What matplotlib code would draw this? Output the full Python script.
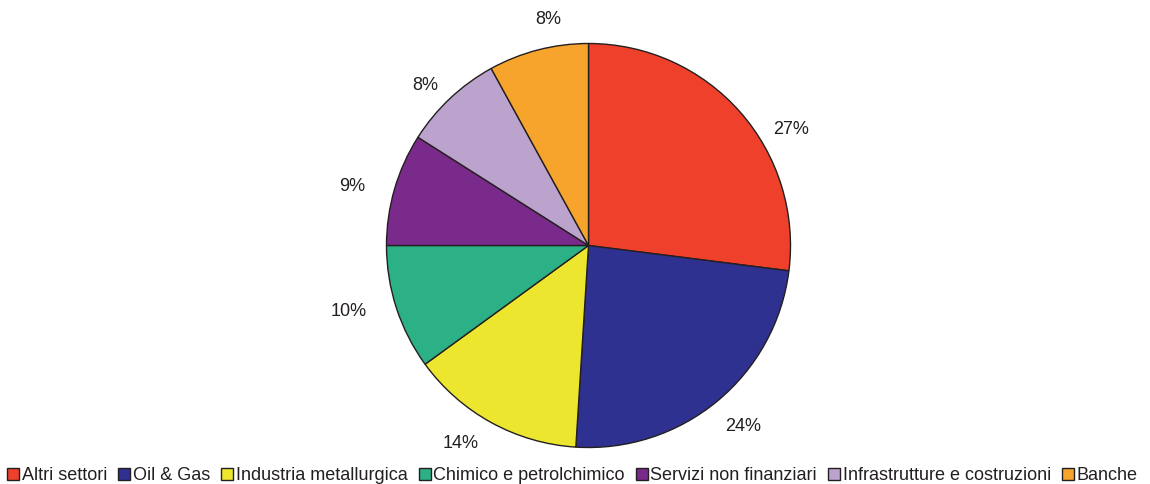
import numpy as np
import matplotlib
matplotlib.use("Agg")
import matplotlib.pyplot as plt
from matplotlib.patches import Patch

plt.rcParams['font.family'] = ['Liberation Sans', 'DejaVu Sans']

sectors = ["Altri settori", "Oil & Gas", "Industria metallurgica",
           "Chimico e petrolchimico", "Servizi non finanziari",
           "Infrastrutture e costruzioni", "Banche"]
shares = [27, 24, 14, 10, 9, 8, 8]
colors = ["#EE402A", "#2E3190", "#EDE62E", "#2CB085", "#7A2A8A", "#BBA3CE", "#F7A42C"]

# label placement around each wedge: angular nudge (deg) and radius factor
label_dtheta = [-11.5, 1.0, -4.0, -2.6, 2.2, 2.3, -4.4]
label_rfac = [1.155, 1.18, 1.165, 1.23, 1.205, 1.13, 1.135]

W, H = 1150, 484
fig = plt.figure(figsize=(W / 100, H / 100), dpi=100)
ax = fig.add_axes([0, 0, 1, 1])

cx, cy, r = 588.5, H - 245.5, 202
wedges, _ = ax.pie(shares, colors=colors, startangle=90, counterclock=False,
                   center=(cx, cy), radius=r, frame=True,
                   wedgeprops=dict(edgecolor="#231F20", linewidth=1.0))
ax.set_xlim(0, W)
ax.set_ylim(0, H)
ax.set_aspect('equal')
ax.axis('off')

for w, v, dt, rf in zip(wedges, shares, label_dtheta, label_rfac):
    mid = np.deg2rad((w.theta1 + w.theta2) / 2 + dt)
    ax.text(cx + r * rf * np.cos(mid), cy + r * rf * np.sin(mid), f"{v}%",
            ha='center', va='center', fontsize=13, color="#231F20")

handles = [Patch(facecolor=c, edgecolor="#231F20", linewidth=1.0) for c in colors]
fig.legend(handles, sectors, loc='center', bbox_to_anchor=(572.5 / W, 1 - 476 / H),
           ncol=7, frameon=False, fontsize=13, handlelength=0.65, handleheight=0.65,
           handletextpad=0.15, columnspacing=0.62, borderpad=0, labelcolor="#231F20")

fig.savefig("out.png", dpi=100)
